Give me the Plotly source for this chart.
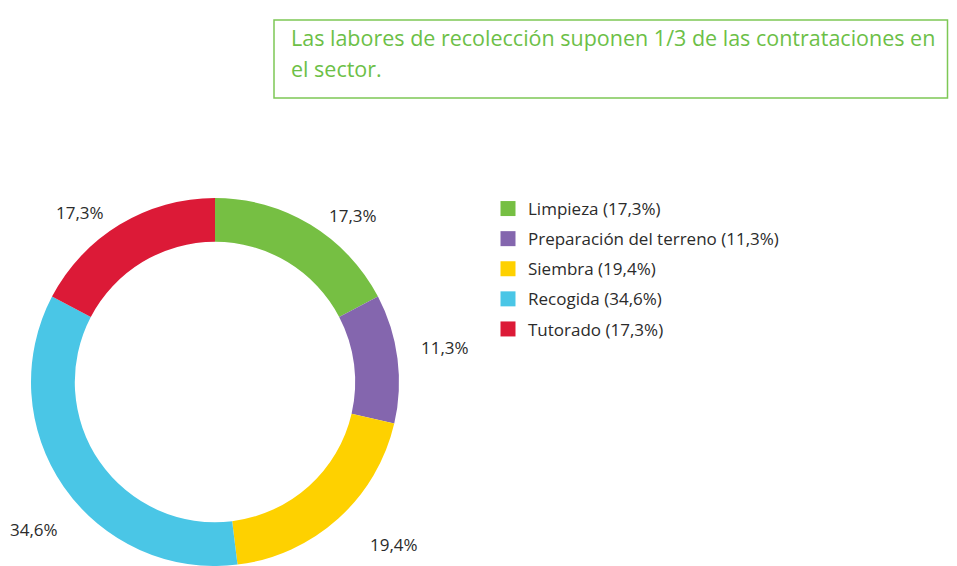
import plotly.graph_objects as go

categories = ["Limpieza", "Preparación del terreno", "Siembra", "Recogida", "Tutorado"]
values = [17.3, 11.3, 19.4, 34.6, 17.3]
colors = ["#76bf43", "#8466ae", "#fed100", "#4ac6e6", "#dc1a37"]
title_lines = ["Las labores de recolección suponen 1/3 de las contrataciones en", "el sector."]

# the page has an 8px body margin, so the figure is sized to fit inside the window
W, H = 941, 558
FONT = "Open Sans"
TXT = "#2b2b2b"

# label anchor positions (pixels from figure top-left) for the percentage texts
label_px = [(345, 208), (437, 339), (386, 536), (26, 521), (72, 204)]

def fmt(v):
    return f"{v:.1f}".replace(".", ",") + "%"

D = 368  # donut diameter in px
CX = 207
fig = go.Figure()
fig.add_trace(go.Pie(
    values=values, labels=categories, sort=False, direction="clockwise", rotation=0,
    hole=0.762, marker=dict(colors=colors, line=dict(width=0)),
    textinfo="none", hoverinfo="label+percent", showlegend=False,
    domain=dict(x=[(CX - D / 2) / W, (CX + D / 2) / W], y=[0, D / H]),
))
for i, (c, v, col) in enumerate(zip(categories, values, colors)):
    fig.add_trace(go.Scatter(
        x=[None], y=[None], mode="markers", name=f"{c} ({fmt(v)})",
        marker=dict(symbol="square", size=15, color=col),
        legendgroup=f"g{i}", showlegend=True,
    ))
for v, (px, py) in zip(values, label_px):
    fig.add_annotation(text=fmt(v), x=px / W, y=1 - py / H, xref="paper", yref="paper",
                       xanchor="center", yanchor="middle",
                       showarrow=False, font=dict(family=FONT, size=17, color=TXT))

# title box
fig.add_shape(type="rect", xref="paper", yref="paper",
              x0=266 / W, x1=939.5 / W, y0=1 - 90 / H, y1=1 - 12 / H,
              line=dict(color="#7dc855", width=1.5))
for k, t in enumerate(title_lines):
    fig.add_annotation(text=t, x=281 / W, y=1 - (30 + 31 * k) / H, xref="paper", yref="paper",
                       xanchor="left", yanchor="middle", showarrow=False,
                       font=dict(family=FONT, size=21.5, color="#6cbf47"))

fig.update_layout(
    width=W, height=H, margin=dict(l=0, r=0, t=0, b=0),
    paper_bgcolor="white", plot_bgcolor="white",
    xaxis=dict(visible=False), yaxis=dict(visible=False),
    legend=dict(x=480 / W, y=1 - 183 / H, xanchor="left", yanchor="top",
                font=dict(family=FONT, size=17, color=TXT), tracegroupgap=5,
                itemsizing="trace", bgcolor="rgba(0,0,0,0)"),
    font=dict(family=FONT),
)
fig.write_html("out.html")
